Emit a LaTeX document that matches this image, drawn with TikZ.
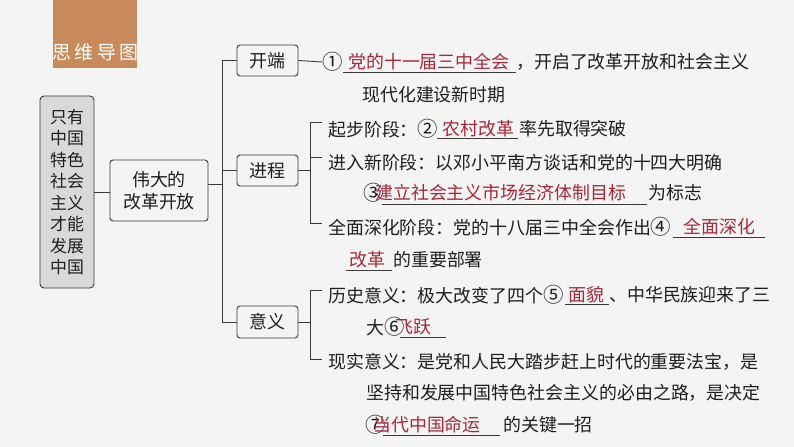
\documentclass[tikz,border=0pt]{standalone}
\usepackage{fontspec}
\newfontfamily\cjk{Noto Sans CJK SC}
\newcommand\cnum[1]{{\fontsize{20.5}{18}\selectfont #1}}
\definecolor{bgc}{HTML}{F4F4F4}
\definecolor{orangec}{HTML}{C98B5B}
\definecolor{grayfill}{HTML}{D9D9D9}
\definecolor{linec}{HTML}{3A3A3A}
\definecolor{ink}{HTML}{1E1E1E}
\definecolor{ansred}{HTML}{A8283A}
\begin{document}
\begin{tikzpicture}[x=1bp,y=-1bp,
  every node/.style={font=\cjk},
  lbl/.style={anchor=west,inner sep=0pt,text=ink,font=\cjk\fontsize{18}{18}\selectfont},
  ans/.style={lbl,text=ansred},
  box/.style={draw=linec,line width=0.9bp,rounded corners=3bp,fill=bgc,inner sep=0pt,text=ink,align=center,font=\cjk\fontsize{18}{22}\selectfont},
  conn/.style={draw=linec,line width=0.9bp},
  uline/.style={draw=linec,line width=0.8bp}]
\useasboundingbox (0,0) rectangle (794,447);
\fill[bgc] (0,0) rectangle (794,447);
% title tab
\fill[orangec] (53,0) rectangle (137,68);
\node[text=white,inner sep=0pt,font=\cjk\fontsize{19}{19}\selectfont] (title) at (95.5,52) {思\,维\,导\,图};
% boxes
\node[box,fill=grayfill,minimum width=54bp,minimum height=192bp,rounded corners=4bp,font=\cjk\fontsize{17}{21.6}\selectfont] (root) at (67,192)
  {只有\\中国\\特色\\社会\\主义\\才能\\发展\\中国};
\node[box,minimum width=98bp,minimum height=61bp] (mid) at (159,190.5) {伟大的\\改革开放};
\node[box,minimum width=61bp,minimum height=31bp] (kd) at (267.5,60.5) {开端};
\node[box,minimum width=61bp,minimum height=31bp] (jc) at (267.5,170.5) {进程};
\node[box,minimum width=61bp,minimum height=32bp] (yy) at (267.5,322) {意义};
% spine
\coordinate (sm) at (222,184);
\coordinate (sb) at (222,322);
\draw[conn] (root.east) -- (root.east -| mid.west);
\draw[conn] (mid.east |- sm) -- (sm);
\draw[conn] (kd.west) -| (sb) -- (yy.west);
\draw[conn] (jc.west) -- (jc.west -| sb);
% row 1
\node[lbl] (c1) at (322,62) {\cnum{①}};
\node[ans] (a1) at (348,62) {党的十一届三中全会};
\node[lbl] (t1) at (516,62) {，开启了改革开放和社会主义};
\draw[conn] (kd.east) -- (c1.west);
\draw[uline] (343,72) -- (516,72);
\node[lbl] (t1b) at (362,95) {现代化建设新时期};
% 进程 branch
\coordinate (jv1) at (310,122);
\coordinate (jv2) at (310,157);
\coordinate (jv3) at (310,223);
\coordinate (je1) at (322,122);
\coordinate (je2) at (322,157);
\coordinate (je3) at (322,223);
\draw[conn] (jc.east) -- (jc.east -| jv1);
\draw[conn] (je1) -- (jv1) -- (jv3) -- (je3);
\draw[conn] (jv2) -- (je2);
% row 3
\node[lbl] (t3) at (328,129) {起步阶段：\cnum{②}};
\node[ans] (a2) at (442,129) {农村改革};
\draw[uline] (437,138) -- (518,138);
\node[lbl] (t3b) at (519,129) {率先取得突破};
% row 4
\node[lbl] (t4) at (328,163) {进入新阶段：以邓小平南方谈话和党的十四大明确};
% row 5
\node[lbl] (c3) at (363,193) {\cnum{③}};
\node[ans] (a3) at (375,193) {建立社会主义市场经济体制目标};
\draw[uline] (382,204) -- (647,204);
\node[lbl] (t5) at (648,193) {为标志};
% row 6
\node[lbl] (t6) at (328,227) {全面深化阶段：党的十八届三中全会作出\cnum{④}};
\node[ans] (a4) at (683,227) {全面深化};
\draw[uline] (673,237) -- (765,237);
% row 7
\node[ans] (a4b) at (349,260) {改革};
\draw[uline] (346,270) -- (392,270);
\node[lbl] (t7) at (393,260) {的重要部署};
% 意义 branch
\coordinate (yv1) at (310,290);
\coordinate (yv2) at (310,359);
\coordinate (ye1) at (322,290);
\coordinate (ye2) at (322,359);
\draw[conn] (yy.east) -- (yy.east -| yv1);
\draw[conn] (ye1) -- (yv1) -- (yv2) -- (ye2);
% row 8
\node[lbl] (t8) at (328,295) {历史意义：极大改变了四个\cnum{⑤}};
\node[ans] (a5) at (568,295) {面貌};
\draw[uline] (565,304) -- (609,304);
\node[lbl] (t8b) at (609,295) {、中华民族迎来了三};
% row 9
\node[lbl] (t9) at (366,327) {大\cnum{⑥}};
\node[ans] (a6) at (395,327) {飞跃};
\draw[uline] (400,337) -- (446,337);
% row 10-12
\node[lbl] (t10) at (328,362) {现实意义：是党和人民大踏步赶上时代的重要法宝，是};
\node[lbl] (t11) at (366,393) {坚持和发展中国特色社会主义的必由之路，是决定};
\node[lbl] (c7) at (365,425) {\cnum{⑦}};
\node[ans] (a7) at (373,425) {当代中国命运};
\draw[uline] (383,435) -- (500,435);
\node[lbl] (t12) at (503,425) {的关键一招};
\end{tikzpicture}
\end{document}
